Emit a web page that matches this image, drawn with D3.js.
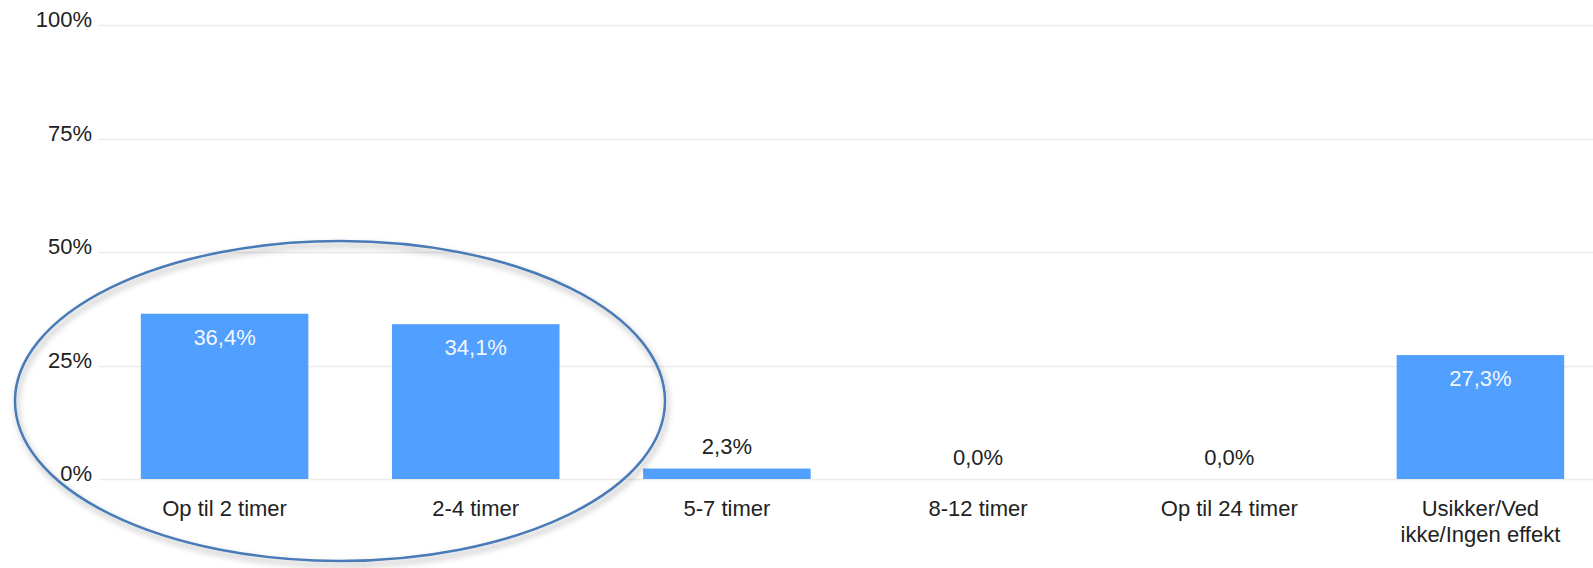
<!DOCTYPE html>
<html>
<head>
<meta charset="utf-8">
<script src="https://cdn.jsdelivr.net/npm/d3@7"></script>
<style>
  html, body { margin: 0; padding: 0; background: #fff; }
  svg { display: block; font-family: "Liberation Sans", Arial, sans-serif; }
</style>
</head>
<body>
<svg id="chart" width="1593" height="568"></svg>
<script>
const categories = ["Op til 2 timer", "2-4 timer", "5-7 timer", "8-12 timer", "Op til 24 timer", "Usikker/Ved ikke/Ingen effekt"];
const values = [36.4, 34.1, 2.3, 0.0, 0.0, 27.3];
const valueLabels = ["36,4%", "34,1%", "2,3%", "0,0%", "0,0%", "27,3%"];
const yTicks = [0, 25, 50, 75, 100];
const yTickLabels = ["0%", "25%", "50%", "75%", "100%"];

(function () {
const svg = d3.select("#chart");
const W = 1593;
const plotLeft = 99, plotRight = 1606, plotTop = 25, plotBottom = 479;

const x = d3.scaleBand().domain(categories).range([plotLeft, plotRight]).paddingInner(0.333).paddingOuter(0.1665);
const y = d3.scaleLinear().domain([0, 100]).range([plotBottom, plotTop]);

// gridlines
svg.append("g").selectAll("line").data(yTicks).join("line")
  .attr("x1", plotLeft).attr("x2", W)
  .attr("y1", d => Math.round(y(d)) + 0.5).attr("y2", d => Math.round(y(d)) + 0.5)
  .attr("stroke", "#ebebeb").attr("stroke-width", 1.5);

// y tick labels
svg.append("g").selectAll("text").data(yTicks).join("text")
  .attr("x", 92).attr("y", d => y(d) + 2)
  .attr("text-anchor", "end")
  .attr("font-size", 22).attr("fill", "#222")
  .text((d, i) => yTickLabels[i]);

// bars
const data = categories.map((c, i) => ({c, v: values[i], lab: valueLabels[i]}));
svg.append("g").selectAll("rect").data(data).join("rect")
  .attr("x", d => x(d.c)).attr("width", x.bandwidth())
  .attr("y", d => y(d.v)).attr("height", d => y(0) - y(d.v))
  .attr("fill", "#519ffe");

// value labels
svg.append("g").selectAll("text").data(data).join("text")
  .attr("x", d => x(d.c) + x.bandwidth() / 2)
  .attr("y", d => (y(0) - y(d.v) > 40) ? y(d.v) + 31 : y(d.v) - 14.5)
  .attr("text-anchor", "middle")
  .attr("font-size", 22)
  .attr("fill", d => (y(0) - y(d.v) > 40) ? "#f2f7ff" : "#222")
  .text(d => d.lab);

// category labels with wrapping
const catG = svg.append("g");
categories.forEach(c => {
  const cx = x(c) + x.bandwidth() / 2;
  const t = catG.append("text")
    .attr("x", cx)
    .attr("y", y(0) + 37)
    .attr("text-anchor", "middle")
    .attr("font-size", 22).attr("fill", "#222");
  const words = c.split(" ");
  let line = [];
  let ts = t.append("tspan").attr("x", cx).attr("dy", 0);
  words.forEach(w => {
    line.push(w);
    ts.text(line.join(" "));
    if (ts.node().getComputedTextLength() > 172 && line.length > 1) {
      line.pop();
      ts.text(line.join(" "));
      line = [w];
      ts = t.append("tspan").attr("x", cx).attr("dy", 25.5).text(w);
    }
  });
});

// annotation ellipse with shadow
const defs = svg.append("defs");
const f = defs.append("filter").attr("id", "sh").attr("x", "-10%").attr("y", "-10%").attr("width", "120%").attr("height", "130%");
f.append("feDropShadow").attr("dx", 2).attr("dy", 4).attr("stdDeviation", 3)
  .attr("flood-color", "#000").attr("flood-opacity", 0.35);
svg.append("ellipse")
  .attr("cx", 340).attr("cy", 401).attr("rx", 325).attr("ry", 160)
  .attr("fill", "none").attr("stroke", "#4a7bb7").attr("stroke-width", 2.5)
  .attr("filter", "url(#sh)");
})();
</script>
</body>
</html>
